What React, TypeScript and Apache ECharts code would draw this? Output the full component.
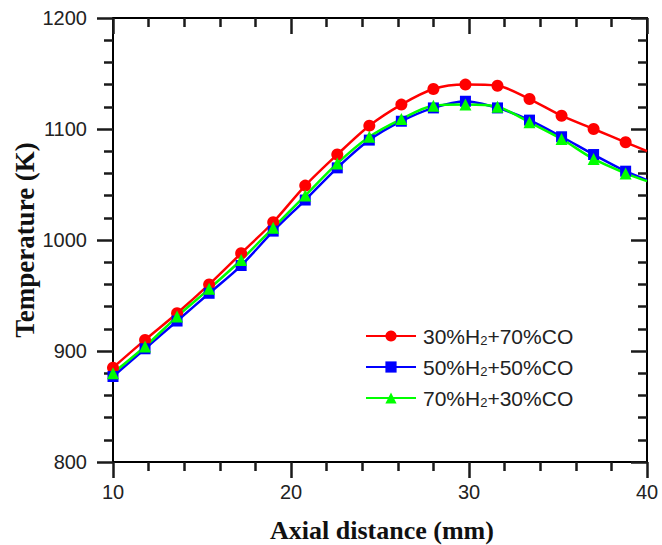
import React, { useEffect, useRef } from "react";
import * as echarts from "echarts";

const xValues = [10, 11.8, 13.6, 15.4, 17.2, 19, 20.8, 22.6, 24.4, 26.2, 28, 29.8, 31.6, 33.4, 35.2, 37, 38.8, 40];
const seriesNames = ["30%H2+70%CO", "50%H2+50%CO", "70%H2+30%CO"];
const red = [885, 910, 934, 960, 988, 1016, 1049, 1077, 1103, 1122, 1136, 1140, 1139, 1127, 1112, 1100, 1088, 1080];
const blue = [877, 902, 927, 952, 977, 1008, 1036, 1065, 1090, 1107, 1119, 1125, 1119, 1108, 1093, 1077, 1062, 1054];
const green = [880, 904, 931, 956, 982, 1011, 1040, 1069, 1093, 1109, 1121, 1122, 1120, 1106, 1091, 1073, 1060, 1053];
const xTicks = { min: 10, max: 40, interval: 10 };
const yTicks = { min: 800, max: 1200, interval: 100 };

const toData = (ys: number[]) =>
  xValues.map((x, i) =>
    i === xValues.length - 1 ? { value: [x, ys[i]], symbol: "none" } : { value: [x, ys[i]] }
  );

export default function App() {
  const ref = useRef<HTMLDivElement>(null);
  useEffect(() => {
    if (!ref.current) return;
    const chart = echarts.init(ref.current, null, { renderer: "svg" });
    const labelFont = { fontFamily: "Liberation Sans", fontSize: 20, color: "#222" };
    const mkAxis = (pos: string, range: any, inside: boolean, showLabel: boolean, margin: number) => ({
      type: "value",
      position: pos,
      min: range.min,
      max: range.max,
      interval: range.interval,
      axisLine: { show: true, onZero: false, lineStyle: { color: "#000", width: 2 } },
      axisTick: { show: true, inside, length: 16, lineStyle: { color: "#1a1a1a", width: 2.5 } },
      minorTick: { show: true, splitNumber: 5, length: 9, lineStyle: { color: "#1a1a1a", width: 2.5 } },
      axisLabel: showLabel ? { ...labelFont, margin, formatter: (v: number) => String(v) } : { show: false },
      splitLine: { show: false },
    });
    const mkSeries = (name: string, ys: number[], color: string, symbol: string, size: number) => ({
      name,
      type: "line",
      smooth: 0.3,
      data: toData(ys),
      symbol,
      symbolSize: size,
      showSymbol: true,
      lineStyle: { color, width: 2.5 },
      itemStyle: { color },
    });
    const fmt = (name: string) => {
      const parts = name.split("H2");
      return `{n|${parts[0]}H}{sub|2}{n|${parts[1]}}`;
    };
    chart.setOption({
      animation: false,
      grid: { left: 113, top: 18, width: 534, height: 444, containLabel: false },
      xAxis: [mkAxis("bottom", xTicks, false, true, 20), mkAxis("top", xTicks, true, false, 8)],
      yAxis: [mkAxis("left", yTicks, false, true, 26), mkAxis("right", yTicks, true, false, 8)],
      legend: {
        orient: "vertical",
        left: 360,
        top: 320,
        itemWidth: 50,
        itemHeight: 14,
        itemGap: 9,
        formatter: fmt,
        textStyle: {
          padding: [0, 0, 0, 2],
          rich: {
            n: { fontFamily: "Liberation Sans", fontSize: 21, color: "#222", lineHeight: 22 },
            sub: { fontFamily: "Liberation Sans", fontSize: 13, color: "#222", lineHeight: 22, verticalAlign: "bottom", padding: [9, 0, 0, 0] },
          },
        },
        data: seriesNames,
      },
      series: [
        mkSeries(seriesNames[0], red, "#ff0000", "circle", 12),
        mkSeries(seriesNames[1], blue, "#0000ff", "rect", 11),
        mkSeries(seriesNames[2], green, "#00ff00", "triangle", 12),
      ],
      graphic: [
        {
          type: "text", x: 382, y: 530,
          style: { text: "Axial distance (mm)", font: "bold 26px 'Liberation Serif'", fill: "#111", textAlign: "center", textVerticalAlign: "middle" },
        },
        {
          type: "text", x: 25, y: 240, rotation: Math.PI / 2,
          style: { text: "Temperature (K)", font: "bold 27px 'Liberation Serif'", fill: "#111", textAlign: "center", textVerticalAlign: "middle" },
        },
      ],
    });
    return () => chart.dispose();
  }, []);
  return <div ref={ref} style={{ position: "absolute", left: 0, top: 0, width: 662, height: 545 }} />;
}
